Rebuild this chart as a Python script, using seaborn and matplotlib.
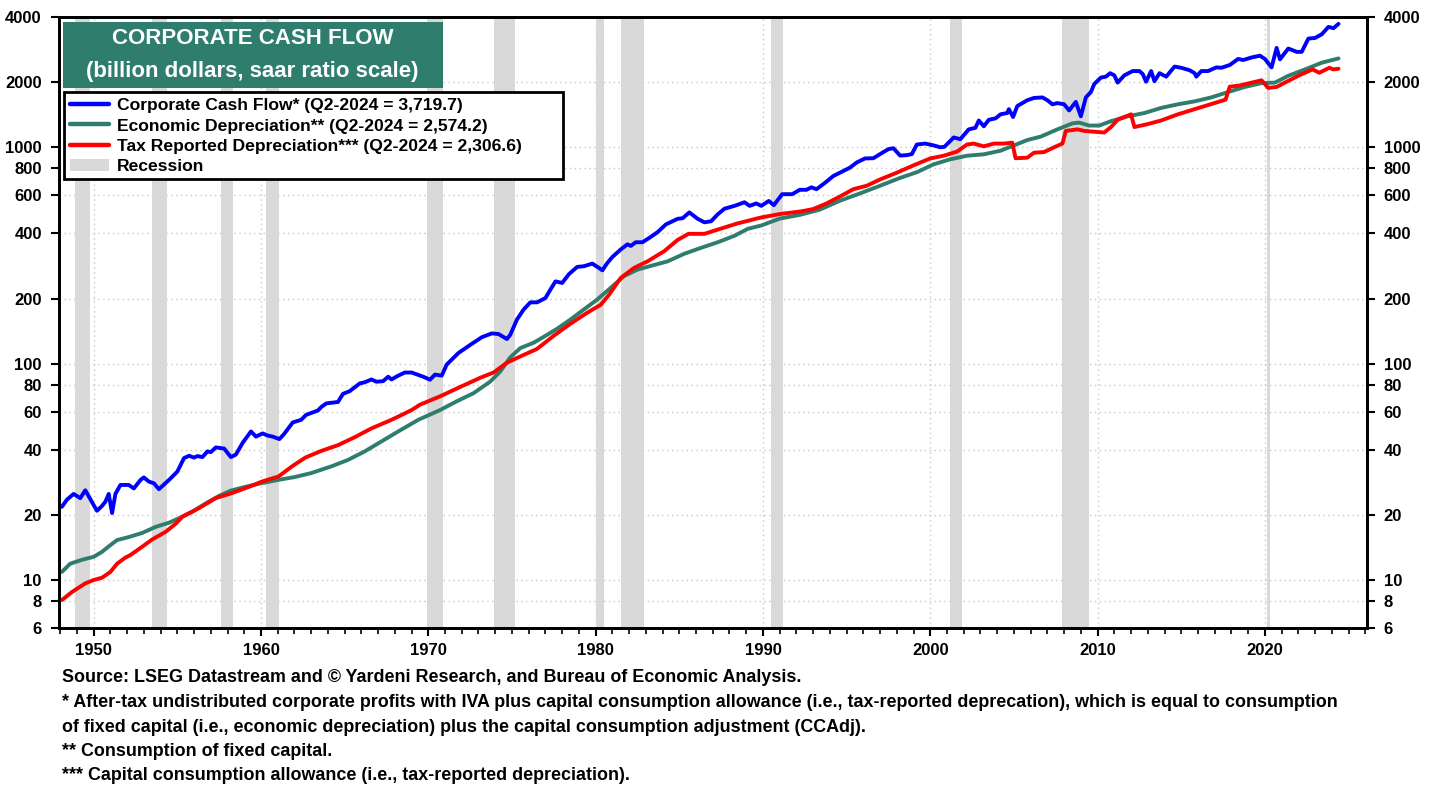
import numpy as np
import pandas as pd
import matplotlib
matplotlib.use("Agg")
import matplotlib.pyplot as plt
from matplotlib.patches import Rectangle, Patch
from matplotlib.lines import Line2D
from matplotlib.ticker import FixedLocator, NullLocator, NullFormatter
import seaborn as sns

# ─────────────────────────────────────────────
# DATOS (billion dollars, saar)
# ─────────────────────────────────────────────
cash_years = [
    1948.1, 1948.4, 1948.8, 1949.2, 1949.5, 1950.0, 1950.2, 1950.5, 1950.7, 1950.9,
    1951.1, 1951.3, 1951.6, 1952.1, 1952.4, 1952.8, 1953.0, 1953.3, 1953.6, 1953.9,
    1954.5, 1955.0, 1955.4, 1955.7, 1956.0, 1956.2, 1956.5, 1956.8, 1957.0, 1957.3,
    1957.8, 1958.2, 1958.5, 1958.9, 1959.4, 1959.7, 1960.1, 1960.4, 1960.7, 1961.1,
    1961.4, 1961.9, 1962.4, 1962.7, 1963.4, 1963.6, 1963.9, 1964.6, 1964.9, 1965.3,
    1965.9, 1966.2, 1966.6, 1966.9, 1967.3, 1967.6, 1967.8, 1968.2, 1968.6, 1969.0,
    1969.7, 1970.1, 1970.4, 1970.8, 1971.1, 1971.8, 1972.5, 1973.2, 1973.8, 1974.2,
    1974.7, 1974.9, 1975.3, 1975.7, 1976.1, 1976.5, 1977.0, 1977.3, 1977.6, 1978.0,
    1978.4, 1978.9, 1979.3, 1979.8, 1980.2, 1980.4, 1980.7, 1981.0, 1981.5, 1981.9,
    1982.1, 1982.4, 1982.8, 1983.2, 1983.7, 1984.2, 1984.9, 1985.2, 1985.6, 1986.1,
    1986.5, 1986.9, 1987.3, 1987.7, 1988.3, 1988.9, 1989.2, 1989.6, 1989.9, 1990.35,
    1990.65, 1991.15, 1991.75, 1992.2, 1992.6, 1992.9, 1993.2, 1993.7, 1994.2, 1994.8,
    1995.2, 1995.6, 1996.1, 1996.6, 1997.1, 1997.5, 1997.8, 1998.2, 1998.6, 1998.9,
    1999.2, 1999.7, 2000.2, 2000.6, 2000.85, 2001.4, 2001.8, 2002.3, 2002.7, 2002.9,
    2003.2, 2003.5, 2003.9, 2004.2, 2004.6, 2004.7, 2004.95, 2005.2, 2005.8, 2006.2,
    2006.7, 2007.0, 2007.3, 2007.6, 2008.0, 2008.3, 2008.7, 2009.0, 2009.3, 2009.6,
    2009.8, 2010.2, 2010.5, 2010.75, 2011.0, 2011.2, 2011.6, 2012.1, 2012.5, 2012.7,
    2012.9, 2013.2, 2013.4, 2013.7, 2014.1, 2014.6, 2015.0, 2015.5, 2015.8, 2015.9,
    2016.2, 2016.6, 2017.1, 2017.4, 2017.9, 2018.4, 2018.7, 2019.2, 2019.7, 2020.0,
    2020.4, 2020.7, 2020.9, 2021.4, 2021.9, 2022.2, 2022.6, 2023.0, 2023.4, 2023.8,
    2024.1, 2024.4,
]
cash_flow = [
    21.8, 23.5, 25, 23.9, 26, 22.2, 20.9, 22, 23, 25,
    20.4, 25, 27.5, 27.5, 26.5, 29, 29.8, 28.5, 28, 26.3,
    29, 31.7, 36.6, 37.5, 36.8, 37.4, 37, 39.3, 39, 41,
    40.5, 37, 38, 43, 48.6, 46, 47.6, 46.5, 46, 44.8,
    47.5, 53.5, 55, 58, 60.7, 63, 65.5, 66.5, 72.5, 74.6,
    81, 82, 84.5, 82.5, 83, 87, 84.5, 88, 91, 91,
    87, 84.3, 89, 88, 99, 112, 122, 132.5, 138, 137,
    130, 136, 160, 178, 192, 192, 201, 220, 240, 236,
    259, 280, 282, 290, 277, 270, 292, 311, 337, 356,
    350, 364, 364, 381, 405, 440, 467, 470, 500, 467,
    450, 455, 490, 520, 536, 557, 536, 550, 536, 565,
    540, 607, 607, 636, 636, 653, 640, 684, 736, 777,
    805, 850, 888, 890, 940, 980, 990, 915, 920, 930,
    1030, 1040, 1020, 1000, 1005, 1110, 1090, 1210, 1230, 1330,
    1250, 1340, 1360, 1420, 1440, 1500, 1380, 1550, 1650, 1690,
    1700, 1650, 1580, 1600, 1580, 1480, 1620, 1390, 1700, 1800,
    1960, 2100, 2120, 2200, 2150, 1990, 2150, 2250, 2250, 2180,
    2010, 2250, 2020, 2200, 2120, 2360, 2330, 2270, 2200, 2120,
    2250, 2250, 2340, 2330, 2400, 2560, 2530, 2600, 2650, 2560,
    2340, 2880, 2550, 2860, 2760, 2760, 3180, 3200, 3330, 3600,
    3550, 3719.7,
]

econ_years = [
    1948.1, 1948.6, 1949.3, 1950.0, 1950.5, 1951.0, 1951.4, 1952.1, 1952.9, 1953.7,
    1954.5, 1955.1, 1955.9, 1956.7, 1957.5, 1958.2, 1959.1, 1960.0, 1961.0, 1962.0,
    1963.0, 1964.2, 1965.2, 1966.2, 1967.2, 1968.2, 1969.4, 1970.7, 1971.7, 1972.7,
    1973.7, 1974.3, 1974.9, 1975.5, 1976.3, 1976.9, 1977.7, 1978.5, 1979.3, 1980.1,
    1980.9, 1981.7, 1982.5, 1983.3, 1984.3, 1985.3, 1986.3, 1987.3, 1988.3, 1989.1,
    1989.9, 1991.0, 1992.2, 1993.4, 1994.6, 1995.8, 1997.0, 1998.2, 1999.2, 2000.2,
    2001.2, 2002.2, 2003.2, 2004.2, 2005.0, 2005.8, 2006.6, 2007.6, 2008.5, 2008.9,
    2009.5, 2010.1, 2010.8, 2011.8, 2012.8, 2013.8, 2014.8, 2015.8, 2016.8, 2017.8,
    2018.8, 2019.8, 2020.6, 2021.4, 2022.4, 2023.4, 2024.4,
]
econ_dep = [
    10.9, 11.9, 12.4, 12.8, 13.5, 14.5, 15.3, 15.8, 16.5, 17.6,
    18.4, 19.3, 20.7, 22.6, 24.5, 25.9, 27, 28, 29, 29.9,
    31.2, 33.5, 35.9, 39.3, 43.7, 48.6, 55, 61, 67, 73,
    82.6, 92, 107, 118, 125, 133, 145, 160, 178, 198,
    224, 254, 272, 283, 297, 322, 343, 364, 390, 420,
    435, 468, 487, 515, 566, 612, 664, 722, 767, 834,
    880, 914, 928, 964, 1020, 1080, 1120, 1210, 1290, 1300,
    1260, 1260, 1320, 1390, 1440, 1520, 1580, 1630, 1700, 1800,
    1900, 1980, 1990, 2140, 2290, 2460, 2574.2,
]

tax_years = [
    1948.1, 1948.7, 1949.5, 1950.0, 1950.5, 1951.0, 1951.4, 1951.9, 1952.2, 1952.9,
    1953.5, 1954.3, 1954.9, 1955.3, 1956.3, 1957.3, 1958.25, 1959.25, 1960.05, 1961.05,
    1961.85, 1962.65, 1963.6, 1964.6, 1965.6, 1966.6, 1967.8, 1968.3, 1969.0, 1969.5,
    1970.7, 1971.9, 1973.1, 1973.9, 1974.7, 1975.5, 1976.5, 1977.5, 1978.5, 1979.5,
    1980.3, 1980.8, 1981.5, 1982.3, 1983.1, 1984.1, 1984.9, 1985.55, 1986.5, 1987.45,
    1988.45, 1989.85, 1991.05, 1992.25, 1993.0, 1993.8, 1994.6, 1995.4, 1996.2, 1997.0,
    1998.0, 1999.0, 2000.0, 2000.8, 2001.6, 2002.2, 2002.6, 2003.2, 2003.8, 2004.4,
    2004.9, 2005.1, 2005.8, 2006.2, 2006.8, 2007.4, 2007.9, 2008.1, 2008.8, 2009.2,
    2009.8, 2010.4, 2010.8, 2011.2, 2011.8, 2012.0, 2012.2, 2013.0, 2013.8, 2014.8,
    2015.8, 2016.75, 2017.65, 2017.9, 2018.5, 2019.1, 2019.8, 2020.2, 2020.7, 2021.25,
    2022.05, 2022.85, 2023.25, 2023.85, 2024.1, 2024.4,
]
tax_dep = [
    8.08, 8.8, 9.65, 10, 10.25, 10.9, 11.9, 12.7, 13.05, 14.25,
    15.4, 16.7, 18.2, 19.6, 21.5, 23.9, 25.2, 26.9, 28.5, 30.1,
    33.5, 36.8, 39.5, 42, 45.7, 50.2, 55, 57.4, 61, 64.6,
    70.6, 78, 86, 91, 101, 108, 117, 134.6, 153, 172,
    187, 208, 249, 277, 297, 331, 373, 398, 398, 420,
    444, 473, 492, 505, 518, 550, 592, 640, 664, 710,
    763, 825, 888, 914, 955, 1030, 1040, 1010, 1040, 1040,
    1050, 890, 895, 944, 950, 1000, 1040, 1190, 1210, 1190,
    1180, 1170, 1240, 1340, 1400, 1420, 1240, 1280, 1330, 1420,
    1500, 1580, 1660, 1905, 1930, 1980, 2040, 1880, 1900, 2000,
    2150, 2290, 2210, 2330, 2290, 2306.6,
]

rec_start = [1948.9, 1953.5, 1957.6, 1960.3, 1969.9, 1973.9, 1980.0, 1981.5, 1990.5, 2001.2, 2007.9, 2020.1]
rec_end   = [1949.8, 1954.4, 1958.3, 1961.1, 1970.9, 1975.2, 1980.5, 1982.9, 1991.2, 2001.9, 2009.5, 2020.3]

y_ticks = [6, 8, 10, 20, 40, 60, 80, 100, 200, 400, 600, 800, 1000, 2000, 4000]
x_ticks = [1950, 1960, 1970, 1980, 1990, 2000, 2010, 2020]

labels = [
    "Corporate Cash Flow* (Q2-2024 = 3,719.7)",
    "Economic Depreciation** (Q2-2024 = 2,574.2)",
    "Tax Reported Depreciation*** (Q2-2024 = 2,306.6)",
]
colors = ["#0000FF", "#2E7D6D", "#FF0000"]
rec_color = "#D9D9D9"

footnotes = [
    "Source: LSEG Datastream and \u00a9 Yardeni Research, and Bureau of Economic Analysis.",
    "* After-tax undistributed corporate profits with IVA plus capital consumption allowance (i.e., tax-reported deprecation), which is equal to consumption",
    "of fixed capital (i.e., economic depreciation) plus the capital consumption adjustment (CCAdj).",
    "** Consumption of fixed capital.",
    "*** Capital consumption allowance (i.e., tax-reported depreciation).",
]

# ─────────────────────────────────────────────
# FIGURA
# ─────────────────────────────────────────────
sns.set_theme(style="white")
plt.rcParams["font.family"] = ["Liberation Sans", "DejaVu Sans"]
plt.rcParams["font.weight"] = "bold"
plt.rcParams["text.color"] = "black"
plt.rcParams["xtick.color"] = "black"
plt.rcParams["ytick.color"] = "black"
plt.rcParams["xtick.labelcolor"] = "black"
plt.rcParams["ytick.labelcolor"] = "black"

fig = plt.figure(figsize=(14.38, 7.87), dpi=100)
ax = fig.add_axes([0.0407, 0.2020, 0.9099, 0.7764])

for s, e in zip(rec_start, rec_end):
    ax.axvspan(s, e, color=rec_color, lw=0, zorder=1)

series = [(cash_years, cash_flow), (econ_years, econ_dep), (tax_years, tax_dep)]
for (xs, ys), col in zip(series, colors):
    df = pd.DataFrame({"year": xs, "value": ys})
    sns.lineplot(data=df, x="year", y="value", ax=ax, color=col, lw=2.8,
                 estimator=None, sort=False, zorder=5, legend=False)

ax.set_yscale("log")
ax.set_ylim(6, 4000)
ax.set_xlim(1947.9, 2026.1)
ax.set_xlabel("")
ax.set_ylabel("")

ax.yaxis.set_major_locator(FixedLocator(y_ticks))
ax.yaxis.set_minor_locator(NullLocator())
ax.yaxis.set_minor_formatter(NullFormatter())
ax.set_yticklabels([str(t) for t in y_ticks])
ax.xaxis.set_major_locator(FixedLocator(x_ticks))
ax.xaxis.set_minor_locator(FixedLocator(np.arange(1948, 2027)))
ax.set_xticklabels([str(t) for t in x_ticks])

grid_kw = dict(color="#C8C8C8", lw=1.0, linestyle=(0, (1, 2.5)))
ax.grid(True, axis="y", which="major", **grid_kw, zorder=0)
ax.grid(True, axis="x", which="major", **grid_kw, zorder=0)
ax.set_axisbelow(True)

ax.tick_params(axis="y", which="major", direction="out", length=6, width=1.5,
               labelsize=12, colors="black", pad=6, left=True)
ax.tick_params(axis="x", which="major", direction="out", length=6, width=1.5,
               labelsize=12, colors="black", pad=5, bottom=True)
ax.tick_params(axis="x", which="minor", direction="out", length=4, width=1.2, bottom=True)
for lbl in ax.get_xticklabels() + ax.get_yticklabels():
    lbl.set_fontweight("bold")
for sp in ax.spines.values():
    sp.set_visible(True)
    sp.set_color("black")
    sp.set_linewidth(2.0)

ax2 = ax.twinx()
ax2.set_yscale("log")
ax2.set_ylim(ax.get_ylim())
ax2.yaxis.set_major_locator(FixedLocator(y_ticks))
ax2.yaxis.set_minor_locator(NullLocator())
ax2.yaxis.set_minor_formatter(NullFormatter())
ax2.set_yticklabels([str(t) for t in y_ticks])
ax2.tick_params(axis="y", which="major", direction="out", length=6, width=1.5,
                labelsize=12, right=True, colors="black", pad=6)
for lbl in ax2.get_yticklabels():
    lbl.set_fontweight("bold")
ax2.grid(False)
for sp in ax2.spines.values():
    sp.set_linewidth(2.0)
    sp.set_color("black")

# Título en caja verde
ax.add_patch(Rectangle((0.0031, 0.8838), 0.2908, 0.108, transform=ax.transAxes,
                       facecolor="#2E7D6D", edgecolor="none", zorder=8))
ax.text(0.1484, 0.964, "CORPORATE CASH FLOW", transform=ax.transAxes, ha="center",
        va="center", color="white", fontsize=16, fontweight="bold", zorder=9)
ax.text(0.1484, 0.9105, "(billion dollars, saar ratio scale)", transform=ax.transAxes,
        ha="center", va="center", color="white", fontsize=16, fontweight="bold", zorder=9)

# Leyenda (marco dibujado aparte)
ax.add_patch(Rectangle((0.0039, 0.7349), 0.3817, 0.1424, transform=ax.transAxes,
                       facecolor="white", edgecolor="black", lw=2.0, zorder=8))
handles = [Line2D([0], [0], color=c, lw=3.2) for c in colors]
handles.append(Patch(facecolor=rec_color, edgecolor="none"))
leg = ax.legend(handles, labels + ["Recession"], loc="upper left",
                bbox_to_anchor=(0.0088, 0.8675), frameon=False,
                prop={"weight": "bold", "size": 12.6}, handlelength=2.23,
                handletextpad=0.46, labelspacing=0.29, borderpad=0.0,
                borderaxespad=0.0)
for t in leg.get_texts():
    t.set_color("black")
leg.set_zorder(10)

# Notas al pie
ys_note = [0.139, 0.107, 0.076, 0.045, 0.014]
for txt, yy in zip(footnotes, ys_note):
    fig.text(0.043, yy, txt, ha="left", va="center", fontsize=12.9,
             fontweight="bold", color="black")

fig.savefig("out.png", dpi=100)
